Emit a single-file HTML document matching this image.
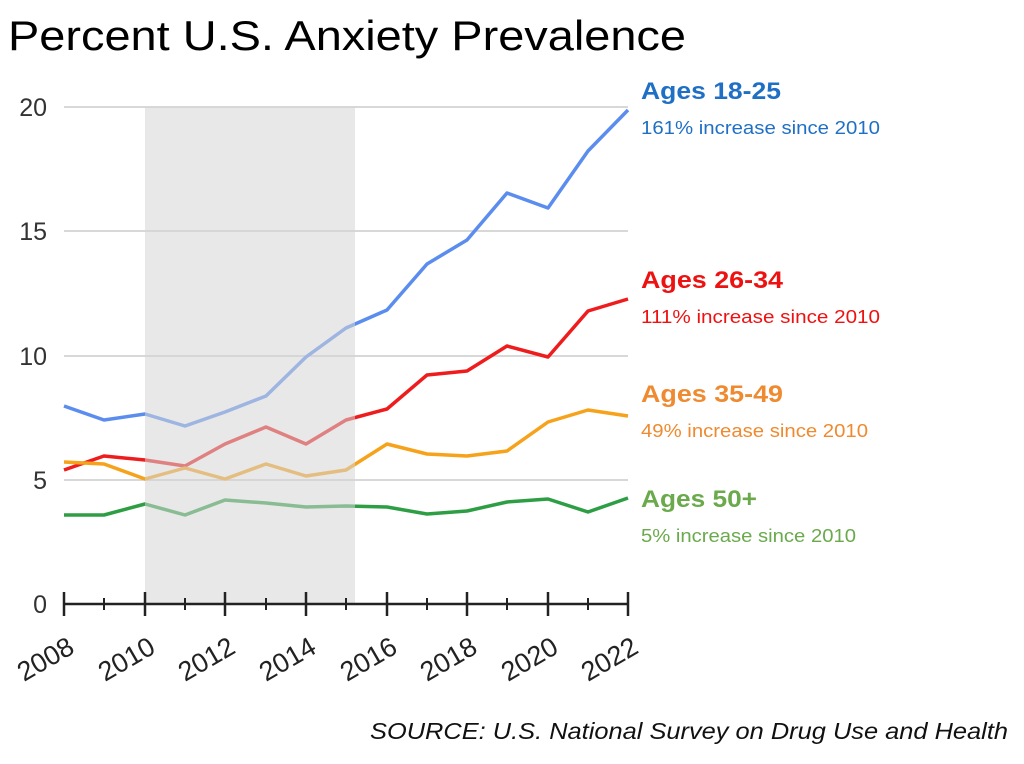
<!DOCTYPE html>
<html><head><meta charset="utf-8"><style>
body{margin:0;background:#fff;width:1024px;height:759px;overflow:hidden;font-family:"Liberation Sans",sans-serif}
</style></head><body>
<svg width="1024" height="759" xmlns="http://www.w3.org/2000/svg" font-family="Liberation Sans, sans-serif">
<text x="8" y="50" font-size="42" fill="#000" textLength="678" lengthAdjust="spacingAndGlyphs">Percent U.S. Anxiety Prevalence</text>
<g stroke="#ccc" stroke-width="1.5">
<line x1="64" y1="107" x2="628" y2="107"/>
<line x1="64" y1="231" x2="628" y2="231"/>
<line x1="64" y1="356" x2="628" y2="356"/>
<line x1="64" y1="480" x2="628" y2="480"/>
</g>
<g font-size="25" fill="#333" text-anchor="end">
<text x="47" y="116">20</text><text x="47" y="240">15</text><text x="47" y="365">10</text><text x="47" y="489">5</text><text x="47" y="613">0</text>
</g>
<g fill="none" stroke-width="3.5" stroke-linejoin="round">
<polyline stroke="#5b8def" points="64,406 104,420 145,414 185,426 225,412 266,396 306,357 346,328 387,310 427,264 467,240 507,193 548,208 588,151 628,110"/>
<polyline stroke="#ee1c1c" points="64,470 104,456 145,460 185,466 225,444 266,427 306,444 346,420 387,409 427,375 467,371 507,346 548,357 588,311 628,299"/>
<polyline stroke="#f6a21a" points="64,462 104,464 145,479 185,468 225,479 266,464 306,476 346,470 387,444 427,454 467,456 507,451 548,422 588,410 628,416"/>
<polyline stroke="#2e9e44" points="64,515 104,515 145,504 185,515 225,500 266,503 306,507 346,506 387,507 427,514 467,511 507,502 548,499 588,512 628,498"/>
</g>
<rect x="145" y="107" width="210" height="497" fill="#d6d6d6" opacity="0.55"/>
<g stroke="#222" stroke-width="2.5">
<line x1="63" y1="604" x2="629" y2="604"/>
<line x1="64" y1="592" x2="64" y2="616"/><line x1="145" y1="592" x2="145" y2="616"/><line x1="225" y1="592" x2="225" y2="616"/><line x1="306" y1="592" x2="306" y2="616"/><line x1="387" y1="592" x2="387" y2="616"/><line x1="467" y1="592" x2="467" y2="616"/><line x1="548" y1="592" x2="548" y2="616"/><line x1="628" y1="592" x2="628" y2="616"/>
</g>
<g stroke="#222" stroke-width="2">
<line x1="104" y1="598" x2="104" y2="610"/><line x1="185" y1="598" x2="185" y2="610"/><line x1="266" y1="598" x2="266" y2="610"/><line x1="346" y1="598" x2="346" y2="610"/><line x1="427" y1="598" x2="427" y2="610"/><line x1="507" y1="598" x2="507" y2="610"/><line x1="588" y1="598" x2="588" y2="610"/>
</g>
<g font-size="27" fill="#222" text-anchor="end">
<text transform="translate(76,652) rotate(-30)">2008</text>
<text transform="translate(157,652) rotate(-30)">2010</text>
<text transform="translate(237,652) rotate(-30)">2012</text>
<text transform="translate(318,652) rotate(-30)">2014</text>
<text transform="translate(399,652) rotate(-30)">2016</text>
<text transform="translate(479,652) rotate(-30)">2018</text>
<text transform="translate(560,652) rotate(-30)">2020</text>
<text transform="translate(640,652) rotate(-30)">2022</text>
</g>
<text x="641" y="99" font-size="24" font-weight="bold" fill="#1f6fc5" textLength="140" lengthAdjust="spacingAndGlyphs">Ages 18-25</text>
<text x="641" y="134" font-size="18" fill="#1f6fc5" textLength="239" lengthAdjust="spacingAndGlyphs">161% increase since 2010</text>
<text x="641" y="288" font-size="24" font-weight="bold" fill="#ee1111" textLength="142" lengthAdjust="spacingAndGlyphs">Ages 26-34</text>
<text x="641" y="323" font-size="18" fill="#ee1111" textLength="239" lengthAdjust="spacingAndGlyphs">111% increase since 2010</text>
<text x="641" y="402" font-size="24" font-weight="bold" fill="#ef8a30" textLength="142" lengthAdjust="spacingAndGlyphs">Ages 35-49</text>
<text x="641" y="437" font-size="18" fill="#ef8a30" textLength="227" lengthAdjust="spacingAndGlyphs">49% increase since 2010</text>
<text x="641" y="507" font-size="24" font-weight="bold" fill="#6aaa4c" textLength="116" lengthAdjust="spacingAndGlyphs">Ages 50+</text>
<text x="641" y="542" font-size="18" fill="#6aaa4c" textLength="215" lengthAdjust="spacingAndGlyphs">5% increase since 2010</text>
<text x="370" y="739" font-size="23" font-style="italic" fill="#111" textLength="638" lengthAdjust="spacingAndGlyphs">SOURCE: U.S. National Survey on Drug Use and Health</text>
</svg>
</body></html>
